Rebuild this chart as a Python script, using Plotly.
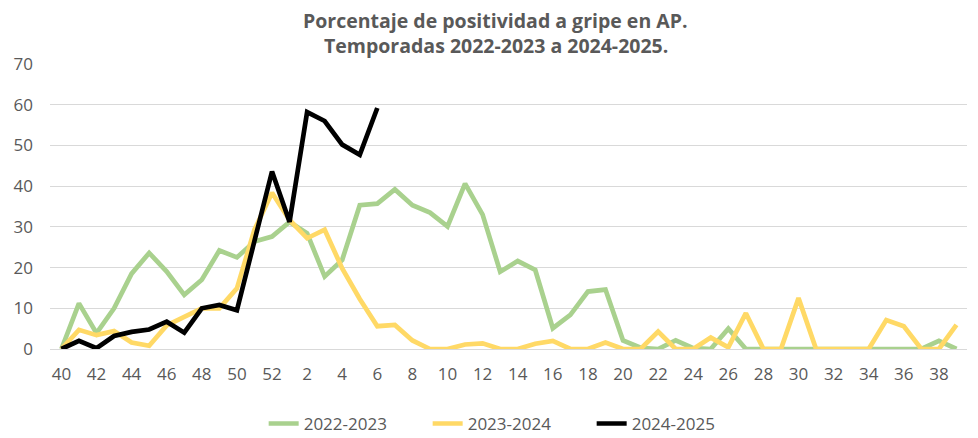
import plotly.graph_objects as go

weeks = [str(w) for w in list(range(40, 53)) + list(range(1, 40))]

s2223 = [0, 11.2, 3.9, 10, 18.5, 23.6, 19, 13.3, 17, 24.2, 22.5, 26.4, 27.6, 31.2, 28.4,
         17.8, 21.9, 35.3, 35.7, 39.2, 35.3, 33.5, 30.1, 40.6, 33, 19, 21.6, 19.4, 5.1,
         8.4, 14.1, 14.6, 2.1, 0.3, 0, 2.1, 0.2, 0, 5, 0, 0, 0, 0, 0, 0, 0, 0, 0, 0, 0, 2, 0]
s2324 = [0, 4.7, 3.4, 4.4, 1.6, 0.8, 5.8, 8, 10, 10, 14.9, 29.3, 38.4, 31.7, 27.2,
         29.3, 19.8, 12.3, 5.6, 5.9, 2.1, 0, 0, 1.1, 1.4, 0, 0, 1.3, 2,
         0, 0, 1.6, 0, 0, 4.3, 0, 0, 2.8, 0.4, 8.8, 0, 0, 12.5, 0, 0, 0, 0, 7.1, 5.6, 0, 0, 5.9]
s2425 = [0, 2, 0.2, 3.2, 4.2, 4.8, 6.7, 4, 10, 10.8, 9.5, 26.4, 43.6, 31.2, 58.2,
         56, 50.2, 47.7, 59.2]

y_ticks = [0, 10, 20, 30, 40, 50, 60, 70]
x_tick_labels = weeks[::2]
title_lines = ["Porcentaje de positividad a gripe en AP.",
               "Temporadas 2022-2023 a 2024-2025."]

series = [
    ("2022-2023", s2223, "#A9D18E"),
    ("2023-2024", s2324, "#FFD966"),
    ("2024-2025", s2425, "#000000"),
]

fig = go.Figure()
for name, vals, color in series:
    fig.add_trace(go.Scatter(
        x=weeks[:len(vals)], y=vals, name=name, mode="lines",
        line=dict(color=color, width=4.7, shape="linear"),
        cliponaxis=False,
    ))

txt = "#595959"
for i, line in enumerate(title_lines):
    fig.add_annotation(
        text="<b>%s</b>" % line, xref="paper", yref="paper",
        x=0.486, y=1.151 - i * 0.086, xanchor="center", yanchor="middle",
        showarrow=False, font=dict(family="Open Sans", size=19.5, color=txt),
    )

# page body has an 8px default margin: size the figure to fill the rest of the window
fig.update_layout(
    width=970, height=430,
    paper_bgcolor="white", plot_bgcolor="white",
    margin=dict(l=42, r=11, t=56, b=89, autoexpand=False),
    font=dict(family="Open Sans", size=17, color=txt),
    showlegend=True,
    legend=dict(orientation="h", x=0.233, xanchor="left", y=-0.263, yanchor="middle",
                font=dict(size=17, color=txt), tracegroupgap=0,
                entrywidth=119, entrywidthmode="pixels"),
)
fig.update_xaxes(
    type="category", categoryorder="array", categoryarray=weeks,
    tickmode="array", tickvals=x_tick_labels, ticktext=x_tick_labels,
    range=[-0.65, 51.6], showgrid=False, showline=False, ticks="",
    tickfont=dict(size=17, color=txt), ticklabelstandoff=13,
)
fig.update_yaxes(
    range=[0, 70], tickvals=y_ticks, showgrid=True, gridcolor="#D9D9D9", gridwidth=1,
    zeroline=True, zerolinecolor="#D9D9D9", zerolinewidth=1, showline=False,
    tickfont=dict(size=17, color=txt), ticks="", ticklabelstandoff=16,
)

fig.write_html("out.html")
